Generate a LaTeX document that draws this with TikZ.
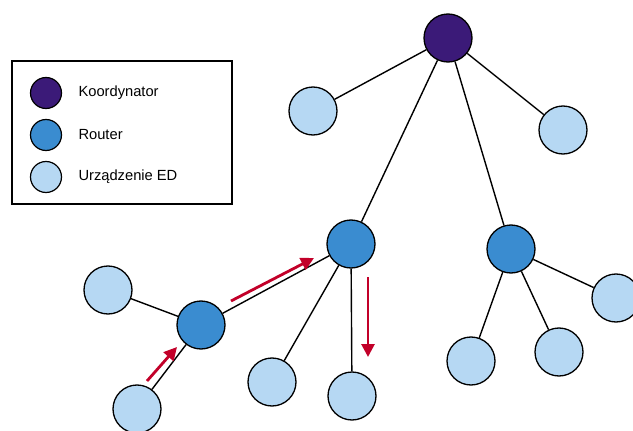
\documentclass[tikz,border=0pt]{standalone}
\usepackage{fontspec}
\setmainfont{Liberation Sans}
\usetikzlibrary{arrows.meta}
\definecolor{coordc}{HTML}{3B1A78}
\definecolor{routc}{HTML}{3A8CD0}
\definecolor{edc}{HTML}{B6D8F3}
\definecolor{flowc}{HTML}{C20029}
\begin{document}
\begin{tikzpicture}[x=1pt,y=-1pt,
  dev/.style={circle,draw=black,line width=1.3pt,minimum size=48pt,inner sep=0pt},
  coord/.style={dev,fill=coordc},
  rout/.style={dev,fill=routc},
  ed/.style={dev,fill=edc},
  keydot/.style={circle,draw=black,line width=1.2pt,minimum size=31pt,inner sep=0pt},
  keytext/.style={anchor=west,font=\fontsize{14.7}{16}\selectfont},
  link/.style={line width=1.4pt},
  flow/.style={draw=flowc,line width=2.8pt,-{Triangle[length=13pt,width=13pt]}}]
\useasboundingbox (0,0) rectangle (633,431);

% legend
\node[draw=black,line width=1.3pt,minimum width=220pt,minimum height=143pt,inner sep=0pt] (legend) at (122,132.5) {};
\node[keydot,fill=coordc] (k1) at (46,93) {};
\node[keydot,fill=routc] (k2) at (46,135) {};
\node[keydot,fill=edc] (k3) at (46,177) {};
\node[keytext] (t1) at (75,93) {Koordynator};
\node[keytext] (t2) at (75,135) {Router};
\node[keytext] (t3) at (75,177) {Urządzenie ED};

% devices
\node[coord] (c) at (448,38) {};
\node[ed] (e1) at (313,111) {};
\node[ed] (e2) at (563,130) {};
\node[rout] (r1) at (351,244) {};
\node[rout] (r2) at (511,249) {};
\node[rout] (r3) at (201,325) {};
\node[ed] (e3) at (108,290) {};
\node[ed] (e4) at (137,409) {};
\node[ed] (e5) at (272,382) {};
\node[ed] (e6) at (352,396) {};
\node[ed] (e7) at (471,361) {};
\node[ed] (e8) at (559,352) {};
\node[ed] (e9) at (616,298) {};

% links
\draw[link] (c) -- (e1);
\draw[link] (c) -- (e2);
\draw[link] (c) -- (r1);
\draw[link] (c) -- (r2);
\draw[link] (r1) -- (r3);
\draw[link] (r1) -- (e5);
\draw[link] (r1) -- (e6);
\draw[link] (r3) -- (e3);
\draw[link] (r3) -- (e4);
\draw[link] (r2) -- (e7);
\draw[link] (r2) -- (e8);
\draw[link] (r2) -- (e9);

% message path
\coordinate (a1s) at (147,381);
\coordinate (a1e) at (177,347);
\coordinate (a2s) at (231,301);
\coordinate (a2e) at (314,258);
\coordinate (a3s) at (368,277);
\coordinate (a3e) at (368,357);
\draw[flow] (a1s) -- (a1e);
\draw[flow] (a2s) -- (a2e);
\draw[flow] (a3s) -- (a3e);
\end{tikzpicture}
\end{document}
